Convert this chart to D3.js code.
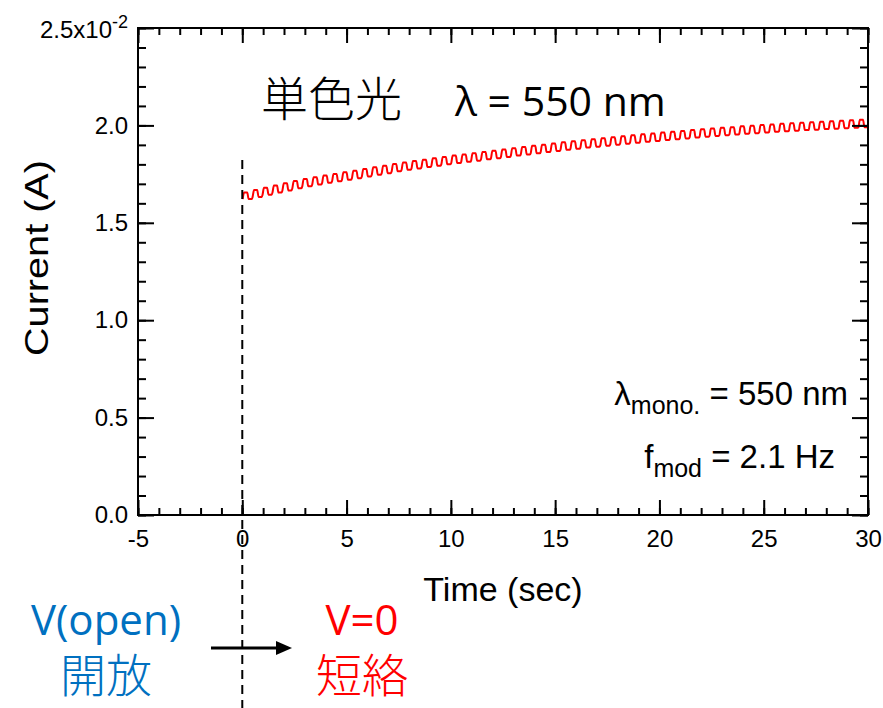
<!DOCTYPE html>
<html>
<head>
<meta charset="utf-8">
<script src="https://cdn.jsdelivr.net/npm/d3@7"></script>
<style>
  body { margin: 0; background: #fff; }
  svg { display: block; }
</style>
</head>
<body>
<div id="chart"></div>
<script>
// Current in units of 10^-2 A, one low/high level per modulation cycle (f = 2.1 Hz)
const fMod = 2.1;
const lowLevel = [
  1.622, 1.633, 1.644, 1.655, 1.666, 1.677, 1.687, 1.696, 1.705, 1.713,
  1.721, 1.729, 1.738, 1.747, 1.755, 1.764, 1.772, 1.779, 1.786, 1.793,
  1.800, 1.807, 1.813, 1.819, 1.826, 1.832, 1.838, 1.845, 1.851, 1.857,
  1.863, 1.869, 1.875, 1.880, 1.886, 1.891, 1.896, 1.901, 1.906, 1.911,
  1.916, 1.920, 1.925, 1.929, 1.933, 1.938, 1.942, 1.946, 1.950, 1.953,
  1.957, 1.960, 1.964, 1.967, 1.970, 1.973, 1.976, 1.978, 1.981, 1.983,
  1.986, 1.988, 1.991
];
const highLevel = [
  1.655, 1.668, 1.680, 1.692, 1.703, 1.714, 1.725, 1.734, 1.743, 1.751,
  1.759, 1.767, 1.776, 1.785, 1.793, 1.802, 1.810, 1.817, 1.824, 1.831,
  1.838, 1.845, 1.851, 1.857, 1.864, 1.870, 1.876, 1.883, 1.889, 1.895,
  1.901, 1.907, 1.913, 1.918, 1.924, 1.929, 1.934, 1.939, 1.944, 1.949,
  1.954, 1.958, 1.963, 1.967, 1.971, 1.976, 1.980, 1.984, 1.988, 1.991,
  1.995, 1.998, 2.002, 2.005, 2.008, 2.011, 2.014, 2.016, 2.019, 2.021,
  2.024, 2.026, 2.029
];
const xTicks = [-5, 0, 5, 10, 15, 20, 25, 30];
const yTicks = [0, 0.5, 1.0, 1.5, 2.0, 2.5];

const width = 883;
const height = 708;
const margin = { top: 28, right: 15, bottom: 193, left: 138 };

const svg = d3.select('#chart')
    .append('svg')
    .attr('width', width)
    .attr('height', height);

const x = d3.scaleLinear()
    .domain([-5, 30])
    .range([margin.left, width - margin.right]);

const y = d3.scaleLinear()
    .domain([0, 2.5])
    .range([height - margin.bottom, margin.top]);

const tickFont = '"Liberation Sans", Arial, sans-serif';

// build the modulated trace from the per-cycle levels
const period = 1 / fMod;
const trace = [];
lowLevel.forEach((lo, k) => {
    const t0 = k * period;
    const hi = highLevel[k];
    trace.push([t0 + 0.04 * period, lo]);
    trace.push([t0 + 0.18 * period, hi]);
    trace.push([t0 + 0.5 * period, hi]);
    trace.push([t0 + 0.64 * period, lo]);
    trace.push([t0 + 0.96 * period, lo]);
});

svg.append('clipPath')
    .attr('id', 'plotclip')
    .append('rect')
    .attr('x', x(-5))
    .attr('y', y(2.5))
    .attr('width', x(30) - x(-5))
    .attr('height', y(0) - y(2.5));

const line = d3.line()
    .x(d => x(d[0]))
    .y(d => y(d[1]))
    .curve(d3.curveMonotoneX);

svg.append('path')
    .datum(trace)
    .attr('clip-path', 'url(#plotclip)')
    .attr('d', line)
    .attr('fill', 'none')
    .attr('stroke', '#ff0000')
    .attr('stroke-width', 2);

// axes: ticks point inward on all four sides
function styleAxis(g) {
    g.select('.domain').remove();
    g.selectAll('.tick line').attr('stroke', '#000').attr('stroke-width', 2);
    g.selectAll('.tick text')
        .attr('fill', '#000')
        .style('font-family', tickFont)
        .style('font-size', '24px');
}

const xMinor = d3.range(-5, 31, 1);
const yMinor = d3.range(0, 2.51, 0.1);

svg.append('g')
    .attr('transform', `translate(0,${y(0)})`)
    .call(d3.axisBottom(x).tickValues(xMinor).tickSize(-7).tickFormat(''))
    .call(styleAxis);
svg.append('g')
    .attr('transform', `translate(0,${y(0)})`)
    .call(d3.axisBottom(x).tickValues(xTicks).tickSize(-15).tickPadding(15).tickFormat(d => String(d)))
    .call(styleAxis);

svg.append('g')
    .attr('transform', `translate(0,${y(2.5)})`)
    .call(d3.axisTop(x).tickValues(xMinor).tickSize(-7).tickFormat(''))
    .call(styleAxis);
svg.append('g')
    .attr('transform', `translate(0,${y(2.5)})`)
    .call(d3.axisTop(x).tickValues(xTicks).tickSize(-15).tickFormat(''))
    .call(styleAxis);

svg.append('g')
    .attr('transform', `translate(${x(-5)},0)`)
    .call(d3.axisLeft(y).tickValues(yMinor).tickSize(-8).tickFormat(''))
    .call(styleAxis);
const yAxis = svg.append('g')
    .attr('transform', `translate(${x(-5)},0)`)
    .call(d3.axisLeft(y).tickValues(yTicks).tickSize(-16).tickPadding(10)
        .tickFormat(d => d === 2.5 ? '' : d3.format('.1f')(d)))
    .call(styleAxis);

// top label with exponent
const topLabel = yAxis.selectAll('.tick')
    .filter(d => d === 2.5)
    .select('text')
    .attr('dy', '0.4em');
topLabel.append('tspan').text('2.5x10');
topLabel.append('tspan')
    .attr('dy', '-0.55em')
    .style('font-size', '18px')
    .text('-2');

svg.append('g')
    .attr('transform', `translate(${x(30)},0)`)
    .call(d3.axisRight(y).tickValues(yMinor).tickSize(-8).tickFormat(''))
    .call(styleAxis);
svg.append('g')
    .attr('transform', `translate(${x(30)},0)`)
    .call(d3.axisRight(y).tickValues(yTicks).tickSize(-16).tickFormat(''))
    .call(styleAxis);

// frame
svg.append('rect')
    .attr('x', x(-5))
    .attr('y', y(2.5))
    .attr('width', x(30) - x(-5))
    .attr('height', y(0) - y(2.5))
    .attr('fill', 'none')
    .attr('stroke', '#000')
    .attr('stroke-width', 2);

// axis titles
svg.append('text')
    .attr('x', (x(-5) + x(30)) / 2)
    .attr('y', 601)
    .attr('text-anchor', 'middle')
    .style('font-family', tickFont)
    .style('font-size', '34px')
    .text('Time (sec)');

svg.append('text')
    .attr('transform', `translate(48,258) rotate(-90)`)
    .attr('text-anchor', 'middle')
    .attr('textLength', 196)
    .attr('lengthAdjust', 'spacingAndGlyphs')
    .style('font-family', tickFont)
    .style('font-size', '33px')
    .text('Current (A)');

// switching moment at t = 0
svg.append('line')
    .attr('x1', x(0))
    .attr('x2', x(0))
    .attr('y1', 160)
    .attr('y2', height)
    .attr('stroke', '#000')
    .attr('stroke-width', 2)
    .attr('stroke-dasharray', '9,6');

// title
const title = svg.append('text')
    .attr('x', 261)
    .attr('y', 116);
title.append('tspan')
    .style('font-family', '"Noto Sans CJK JP", sans-serif')
    .style('font-weight', 300)
    .style('font-size', '47px')
    .text('単色光');
title.append('tspan')
    .attr('x', 455)
    .style('font-family', '"Open Sans", "Noto Sans", sans-serif')
    .style('font-weight', 500)
    .style('font-size', '41px')
    .text('λ = 550 nm');

// annotations
const ann1 = svg.append('text')
    .attr('x', 848)
    .attr('y', 405)
    .attr('text-anchor', 'end')
    .style('font-family', tickFont)
    .style('font-size', '33px');
ann1.append('tspan').text('λ');
ann1.append('tspan').attr('dy', 9).style('font-size', '25px').text('mono.');
ann1.append('tspan').attr('dy', -9).text(' = 550 nm');

const ann2 = svg.append('text')
    .attr('x', 835)
    .attr('y', 468)
    .attr('text-anchor', 'end')
    .style('font-family', tickFont)
    .style('font-size', '33px');
ann2.append('tspan').text('f');
ann2.append('tspan').attr('dy', 9).style('font-size', '25px').text('mod');
ann2.append('tspan').attr('dy', -9).text(' = 2.1 Hz');

// bottom state labels
const labelFont = '"Open Sans", "Noto Sans", sans-serif';
const cjkFont = '"Noto Sans CJK JP", sans-serif';
svg.append('text')
    .attr('x', 106).attr('y', 635)
    .attr('text-anchor', 'middle')
    .attr('fill', '#0070c0')
    .style('font-family', labelFont)
    .style('font-size', '42px')
    .text('V(open)');
svg.append('text')
    .attr('x', 106).attr('y', 692)
    .attr('text-anchor', 'middle')
    .attr('fill', '#0070c0')
    .style('font-family', cjkFont)
    .style('font-weight', 300)
    .style('font-size', '46px')
    .text('開放');
svg.append('text')
    .attr('x', 362).attr('y', 635)
    .attr('text-anchor', 'middle')
    .attr('fill', '#ff0000')
    .style('font-family', labelFont)
    .style('font-size', '42px')
    .text('V=0');
svg.append('text')
    .attr('x', 362).attr('y', 692)
    .attr('text-anchor', 'middle')
    .attr('fill', '#ff0000')
    .style('font-family', cjkFont)
    .style('font-weight', 300)
    .style('font-size', '46px')
    .text('短絡');

// arrow
svg.append('line')
    .attr('x1', 211).attr('x2', 280)
    .attr('y1', 648).attr('y2', 648)
    .attr('stroke', '#000')
    .attr('stroke-width', 3);
svg.append('path')
    .attr('d', 'M276,641 L292,648 L276,655 Z')
    .attr('fill', '#000');
</script>
</body>
</html>
